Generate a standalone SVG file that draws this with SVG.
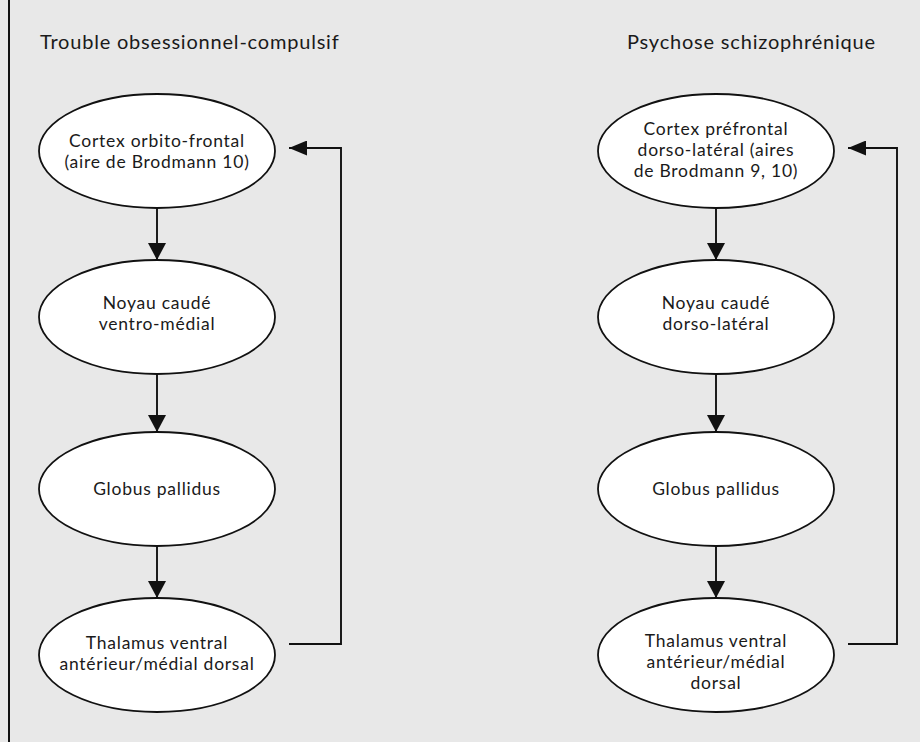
<svg xmlns="http://www.w3.org/2000/svg" width="920" height="742" viewBox="0 0 920 742">
<defs>
<style>
.bg{fill:#e8e8e8}
.node ellipse{fill:#fff;stroke:#111;stroke-width:1.8}
.node text{font-family:Lato,"Open Sans","Liberation Sans",sans-serif;font-size:17.5px;letter-spacing:0.75px;fill:#1a1a1a;text-anchor:middle}
.title{font-family:Lato,"Open Sans","Liberation Sans",sans-serif;font-size:20px;letter-spacing:0.8px;fill:#1a1a1a}
.conn line,.conn polyline{stroke:#111;stroke-width:1.9;fill:none}
</style>
<marker id="ah" viewBox="0 0 17 18" refX="17" refY="9" markerWidth="17" markerHeight="18" markerUnits="userSpaceOnUse" orient="auto">
<path d="M0,0 L17,9 L0,18 Z" fill="#111"/>
</marker>
<marker id="ah2" viewBox="0 0 18 15" refX="18" refY="7.5" markerWidth="18" markerHeight="15" markerUnits="userSpaceOnUse" orient="auto">
<path d="M0,0 L18,7.5 L0,15 Z" fill="#111"/>
</marker>
</defs>
<rect class="bg" x="0" y="0" width="920" height="742"/>
<line x1="9" y1="0" x2="9" y2="742" stroke="#111" stroke-width="2"/>
<text class="title" x="40" y="49">Trouble obsessionnel-compulsif</text>
<text class="title" x="627" y="49">Psychose schizophrénique</text>

<g id="L1" class="node"><ellipse cx="157" cy="151" rx="118" ry="57"/><text x="157" y="147">Cortex orbito-frontal</text><text x="157" y="168">(aire de Brodmann 10)</text></g>
<g id="L2" class="node"><ellipse cx="157" cy="317" rx="118" ry="57"/><text x="157" y="309">Noyau caudé</text><text x="157" y="330">ventro-médial</text></g>
<g id="L3" class="node"><ellipse cx="157" cy="489" rx="118" ry="57"/><text x="157" y="495">Globus pallidus</text></g>
<g id="L4" class="node"><ellipse cx="157" cy="655" rx="118" ry="57"/><text x="157" y="649">Thalamus ventral</text><text x="157" y="670">antérieur/médial dorsal</text></g>

<g id="R1" class="node"><ellipse cx="716" cy="151" rx="118" ry="57"/><text x="716" y="135">Cortex préfrontal</text><text x="716" y="156">dorso-latéral (aires</text><text x="716" y="177">de Brodmann 9, 10)</text></g>
<g id="R2" class="node"><ellipse cx="716" cy="317" rx="118" ry="57"/><text x="716" y="309">Noyau caudé</text><text x="716" y="330">dorso-latéral</text></g>
<g id="R3" class="node"><ellipse cx="716" cy="489" rx="118" ry="57"/><text x="716" y="495">Globus pallidus</text></g>
<g id="R4" class="node"><ellipse cx="716" cy="655" rx="118" ry="57"/><text x="716" y="647">Thalamus ventral</text><text x="716" y="668">antérieur/médial</text><text x="716" y="689">dorsal</text></g>

<g id="connectors" class="conn">
<line x1="157" y1="208" x2="157" y2="260" marker-end="url(#ah)"/>
<line x1="157" y1="374" x2="157" y2="432" marker-end="url(#ah)"/>
<line x1="157" y1="546" x2="157" y2="598" marker-end="url(#ah)"/>
<polyline points="289,644 341,644 341,148 289,148" marker-end="url(#ah2)"/>
<line x1="716" y1="208" x2="716" y2="260" marker-end="url(#ah)"/>
<line x1="716" y1="374" x2="716" y2="432" marker-end="url(#ah)"/>
<line x1="716" y1="546" x2="716" y2="598" marker-end="url(#ah)"/>
<polyline points="848,644 897,644 897,148 848,148" marker-end="url(#ah2)"/>
</g>
</svg>
